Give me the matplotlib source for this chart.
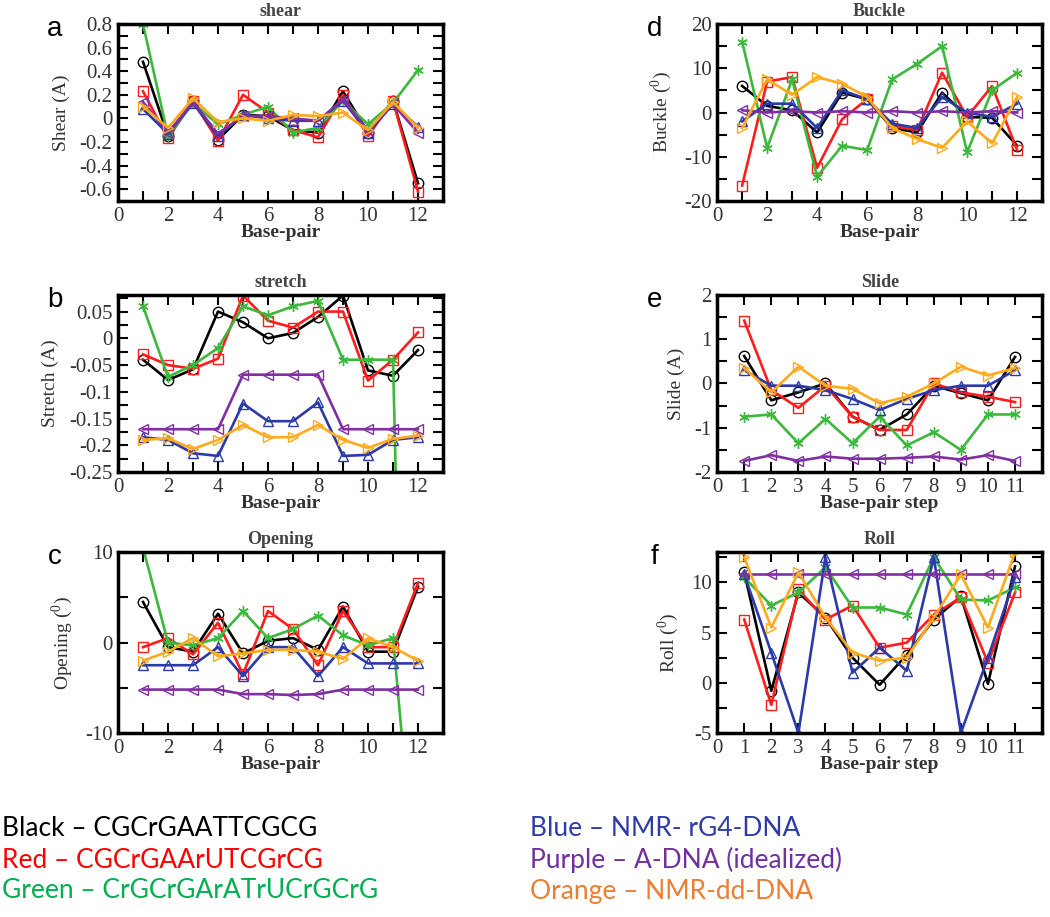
import numpy as np
import matplotlib
matplotlib.use('Agg')
import matplotlib.pyplot as plt
from matplotlib.ticker import MultipleLocator, FuncFormatter

plt.rcParams['axes.unicode_minus'] = False
plt.rcParams['font.family'] = ['Liberation Serif', 'DejaVu Serif']
plt.rcParams['mathtext.fontset'] = 'custom'
plt.rcParams['mathtext.rm'] = 'Liberation Serif'

# base-pair index (left column, Buckle) and base-pair step index (Slide, Roll)
bp = [1, 2, 3, 4, 5, 6, 7, 8, 9, 10, 11, 12]
step = [1, 2, 3, 4, 5, 6, 7, 8, 9, 10, 11]

# shear (A)
shear_black = [0.48, -0.15, 0.15, -0.18, 0.03, 0.02, -0.10, -0.12, 0.23, -0.12, 0.15, -0.55]
shear_red = [0.23, -0.17, 0.15, -0.19, 0.20, 0.05, -0.10, -0.16, 0.20, -0.15, 0.15, -0.62]
shear_green = [0.80, -0.15, 0.13, -0.05, 0.03, 0.10, -0.12, -0.08, 0.15, -0.05, 0.13, 0.41]
shear_blue = [0.08, -0.13, 0.13, -0.15, 0.03, 0.00, -0.02, -0.02, 0.15, -0.12, 0.12, -0.07]
shear_purple = [0.14, -0.12, 0.14, -0.13, 0.02, 0.02, 0.00, -0.02, 0.16, -0.10, 0.12, -0.12]
shear_orange = [0.10, -0.08, 0.17, -0.03, 0.00, -0.02, 0.03, 0.02, 0.05, -0.10, 0.14, -0.08]

# stretch (A)
stretch_black = [-0.040, -0.078, -0.058, 0.050, 0.030, 0.000, 0.010, 0.040, 0.080, -0.060, -0.070, -0.022]
stretch_red = [-0.030, -0.050, -0.057, -0.038, 0.080, 0.033, 0.020, 0.050, 0.050, -0.079, -0.040, 0.011]
stretch_green = [0.060, -0.072, -0.050, -0.018, 0.060, 0.043, 0.060, 0.070, -0.040, -0.040, -0.040, -2.0]
stretch_blue = [-0.185, -0.190, -0.215, -0.220, -0.122, -0.155, -0.155, -0.120, -0.220, -0.218, -0.190, -0.185]
stretch_purple = [-0.170, -0.170, -0.170, -0.170, -0.068, -0.068, -0.068, -0.068, -0.170, -0.170, -0.170, -0.170]
stretch_orange = [-0.190, -0.187, -0.207, -0.190, -0.162, -0.185, -0.185, -0.162, -0.190, -0.205, -0.188, -0.182]

# opening (deg)
opening_black = [4.5, -0.5, -1.0, 3.2, -1.2, 0.2, 0.5, -0.8, 4.0, -1.0, -1.0, 6.2]
opening_red = [-0.5, 0.5, -1.3, 2.2, -3.5, 3.5, 1.5, -2.5, 3.5, -0.5, -0.5, 6.6]
opening_green = [10.5, 0.0, -0.3, 0.5, 3.5, 0.5, 1.5, 3.0, 0.8, -0.3, 0.5, -30.0]
opening_blue = [-2.5, -2.5, -2.5, -0.5, -3.7, -0.5, -0.5, -3.7, -0.5, -2.3, -2.3, -2.3]
opening_purple = [-5.2, -5.2, -5.2, -5.2, -5.7, -5.7, -5.8, -5.7, -5.2, -5.2, -5.2, -5.2]
opening_orange = [-2.0, -1.0, 0.5, -1.5, -1.2, -0.8, -0.8, -1.0, -1.8, 0.5, -0.5, -2.0]

# buckle (deg)
buckle_black = [6.0, 1.5, 0.5, -4.5, 4.5, 3.0, -3.5, -4.5, 4.5, -1.0, -1.2, -7.5]
buckle_red = [-16.5, 7.0, 8.0, -12.5, -1.5, 3.0, -3.0, -4.0, 9.0, -1.0, 6.0, -8.5]
buckle_green = [16.0, -8.0, 7.5, -14.5, -7.5, -8.5, 7.5, 11.0, 15.0, -9.0, 5.0, 9.0]
buckle_blue = [-2.0, 2.0, 2.0, -3.5, 5.0, 3.0, -2.5, -3.5, 3.5, 0.0, -1.0, 2.0]
buckle_purple = [0.5, 0.0, 0.3, 0.0, 0.3, 0.0, 0.3, 0.0, 0.3, 0.0, 0.3, 0.0]
buckle_orange = [-3.5, 7.5, 4.0, 8.0, 6.5, 3.5, -3.5, -6.0, -8.0, -2.0, -7.0, 3.5]

# slide (A)
slide_black = [0.62, -0.38, -0.20, 0.00, -0.75, -1.05, -0.70, -0.05, -0.22, -0.38, 0.60]
slide_red = [1.42, -0.15, -0.55, -0.05, -0.75, -1.05, -1.05, 0.00, -0.20, -0.30, -0.42]
slide_green = [-0.75, -0.70, -1.35, -0.80, -1.35, -0.75, -1.40, -1.10, -1.50, -0.70, -0.70]
slide_blue = [0.30, -0.05, -0.05, -0.15, -0.35, -0.60, -0.35, -0.15, -0.05, -0.05, 0.30]
slide_purple = [-1.75, -1.62, -1.75, -1.65, -1.70, -1.70, -1.68, -1.65, -1.72, -1.62, -1.75]
slide_orange = [0.35, -0.20, 0.38, -0.05, -0.12, -0.45, -0.30, 0.00, 0.38, 0.18, 0.35]

# roll (deg)
roll_black = [11.0, -0.8, 9.0, 6.5, 2.5, -0.2, 2.8, 6.3, 8.6, -0.1, 11.6]
roll_red = [6.3, -2.2, 9.3, 6.3, 7.7, 3.5, 4.0, 6.8, 8.5, 2.0, 9.0]
roll_green = [10.5, 7.7, 9.0, 11.5, 7.5, 7.5, 6.8, 12.5, 8.3, 8.2, 9.5]
roll_blue = [10.8, 3.0, -5.0, 12.5, 1.0, 3.5, 1.2, 12.5, -5.0, 2.5, 10.5]
roll_purple = [10.8, 10.8, 10.8, 10.8, 10.8, 10.8, 10.8, 10.8, 10.8, 10.8, 10.8]
roll_orange = [12.5, 5.5, 11.0, 6.5, 3.0, 2.2, 2.5, 6.5, 10.8, 5.5, 13.0]

legend_left = ["Black \u2013 CGCrGAATTCGCG", "Red \u2013 CGCrGAArUTCGrCG", "Green \u2013 CrGCrGArATrUCrGCrG"]
legend_right = ["Blue \u2013 NMR- rG4-DNA", "Purple \u2013 A-DNA (idealized)", "Orange \u2013 NMR-dd-DNA"]

# line style per series: colour, marker
styles = [('#000000', 'o'), ('#ff1c1c', 's'), ('#3cb83c', (6, 2, 0)),
          ('#2b3aa8', '^'), ('#7f2fa0', '<'), ('#ffaa1a', '>')]
text_colors_left = ['#000000', '#ff0000', '#00b050']
text_colors_right = ['#2e3ca8', '#7030a0', '#ed7d31']

fig = plt.figure(figsize=(10.5, 9.17), dpi=100)

w = 0.3095
left_x = [0.1124, 0.683]
rows = [(0.7808, 0.193), (0.4853, 0.193), (0.2007, 0.197)]


def yfmt(v, pos):
    v = round(v, 4)
    if abs(v) < 1e-9:
        return '0'
    return '%g' % v


def panel(pos, x, series, title, ylabel, xlabel, ylim, ymaj, ymin, xlim, xmaj, xmin, letter):
    ax = fig.add_axes(pos)
    for vals, (col, mk) in zip(series, styles):
        ax.plot(x, vals, color=col, lw=1.9, marker=mk, ms=7.5, mfc='none', mec=col, mew=1.0)
    ax.set_xlim(*xlim)
    ax.set_ylim(*ylim)
    ax.xaxis.set_major_locator(MultipleLocator(xmaj))
    if xmin:
        ax.xaxis.set_minor_locator(MultipleLocator(xmin))
    ax.yaxis.set_major_locator(MultipleLocator(ymaj))
    ax.yaxis.set_minor_locator(MultipleLocator(ymin))
    ax.yaxis.set_major_formatter(FuncFormatter(yfmt))
    ax.tick_params(which='both', direction='in', top=True, right=True, length=7, width=1.5,
                   labelsize=15, pad=4, labelcolor='#333333')
    for s in ax.spines.values():
        s.set_linewidth(2.5)
    ax.set_title(title, fontsize=13, fontweight='bold', color='#444444', pad=6)
    ax.set_xlabel(xlabel, fontsize=14, fontweight='bold', color='#333333', labelpad=-1)
    ax.set_ylabel(ylabel, fontsize=14, color='#333333', labelpad=7)
    # panel letter, placed in pixels relative to the axes' top-left corner
    fig.text(pos[0] - 63 / 1050, pos[1] + pos[3] - 5 / 917, letter, fontsize=20,
             family='Liberation Sans', ha='center', va='center')
    return ax


panel([left_x[0], rows[0][0], w, rows[0][1]], bp,
      [shear_black, shear_red, shear_green, shear_blue, shear_purple, shear_orange],
      'shear', 'Shear (A)', 'Base-pair', (-0.7, 0.8), 0.2, 0.1, (0, 13), 2, 1, 'a')
panel([left_x[0], rows[1][0], w, rows[1][1]], bp,
      [stretch_black, stretch_red, stretch_green, stretch_blue, stretch_purple, stretch_orange],
      'stretch', 'Stretch (A)', 'Base-pair', (-0.25, 0.081), 0.05, 0.025, (0, 13), 2, 1, 'b')
panel([left_x[0], rows[2][0], w, rows[2][1]], bp,
      [opening_black, opening_red, opening_green, opening_blue, opening_purple, opening_orange],
      'Opening', r'Opening $(^{0})$', 'Base-pair', (-10, 10), 10, 5, (0, 13), 2, 1, 'c')
panel([left_x[1], rows[0][0], w, rows[0][1]], bp,
      [buckle_black, buckle_red, buckle_green, buckle_blue, buckle_purple, buckle_orange],
      'Buckle', r'Buckle $(^{0})$', 'Base-pair', (-20, 20), 10, 5, (0, 13), 2, 1, 'd')
ax_e = panel([left_x[1], rows[1][0], w, rows[1][1]], step,
             [slide_black, slide_red, slide_green, slide_blue, slide_purple, slide_orange],
             'Slide', 'Slide (A)', 'Base-pair step', (-2, 2), 1, 0.5, (0, 12), 1, None, 'e')
ax_f = panel([left_x[1], rows[2][0], w, rows[2][1]], step,
             [roll_black, roll_red, roll_green, roll_blue, roll_purple, roll_orange],
             'Roll', r'Roll $(^{0})$', 'Base-pair step', (-5, 13), 5, 2.5, (0, 12), 1, None, 'f')
for ax in (ax_e, ax_f):
    ax.set_xticks(range(0, 12))

for i, (t, c) in enumerate(zip(legend_left, text_colors_left)):
    fig.text(0.002, 1 - (829 + 31 * i) / 917, t, color=c, fontsize=19, family='Lato',
             ha='left', va='center')
for i, (t, c) in enumerate(zip(legend_right, text_colors_right)):
    fig.text(0.505, 1 - (829 + 31 * i) / 917, t, color=c, fontsize=19, family='Lato',
             ha='left', va='center')

fig.savefig('out.png', dpi=100)
